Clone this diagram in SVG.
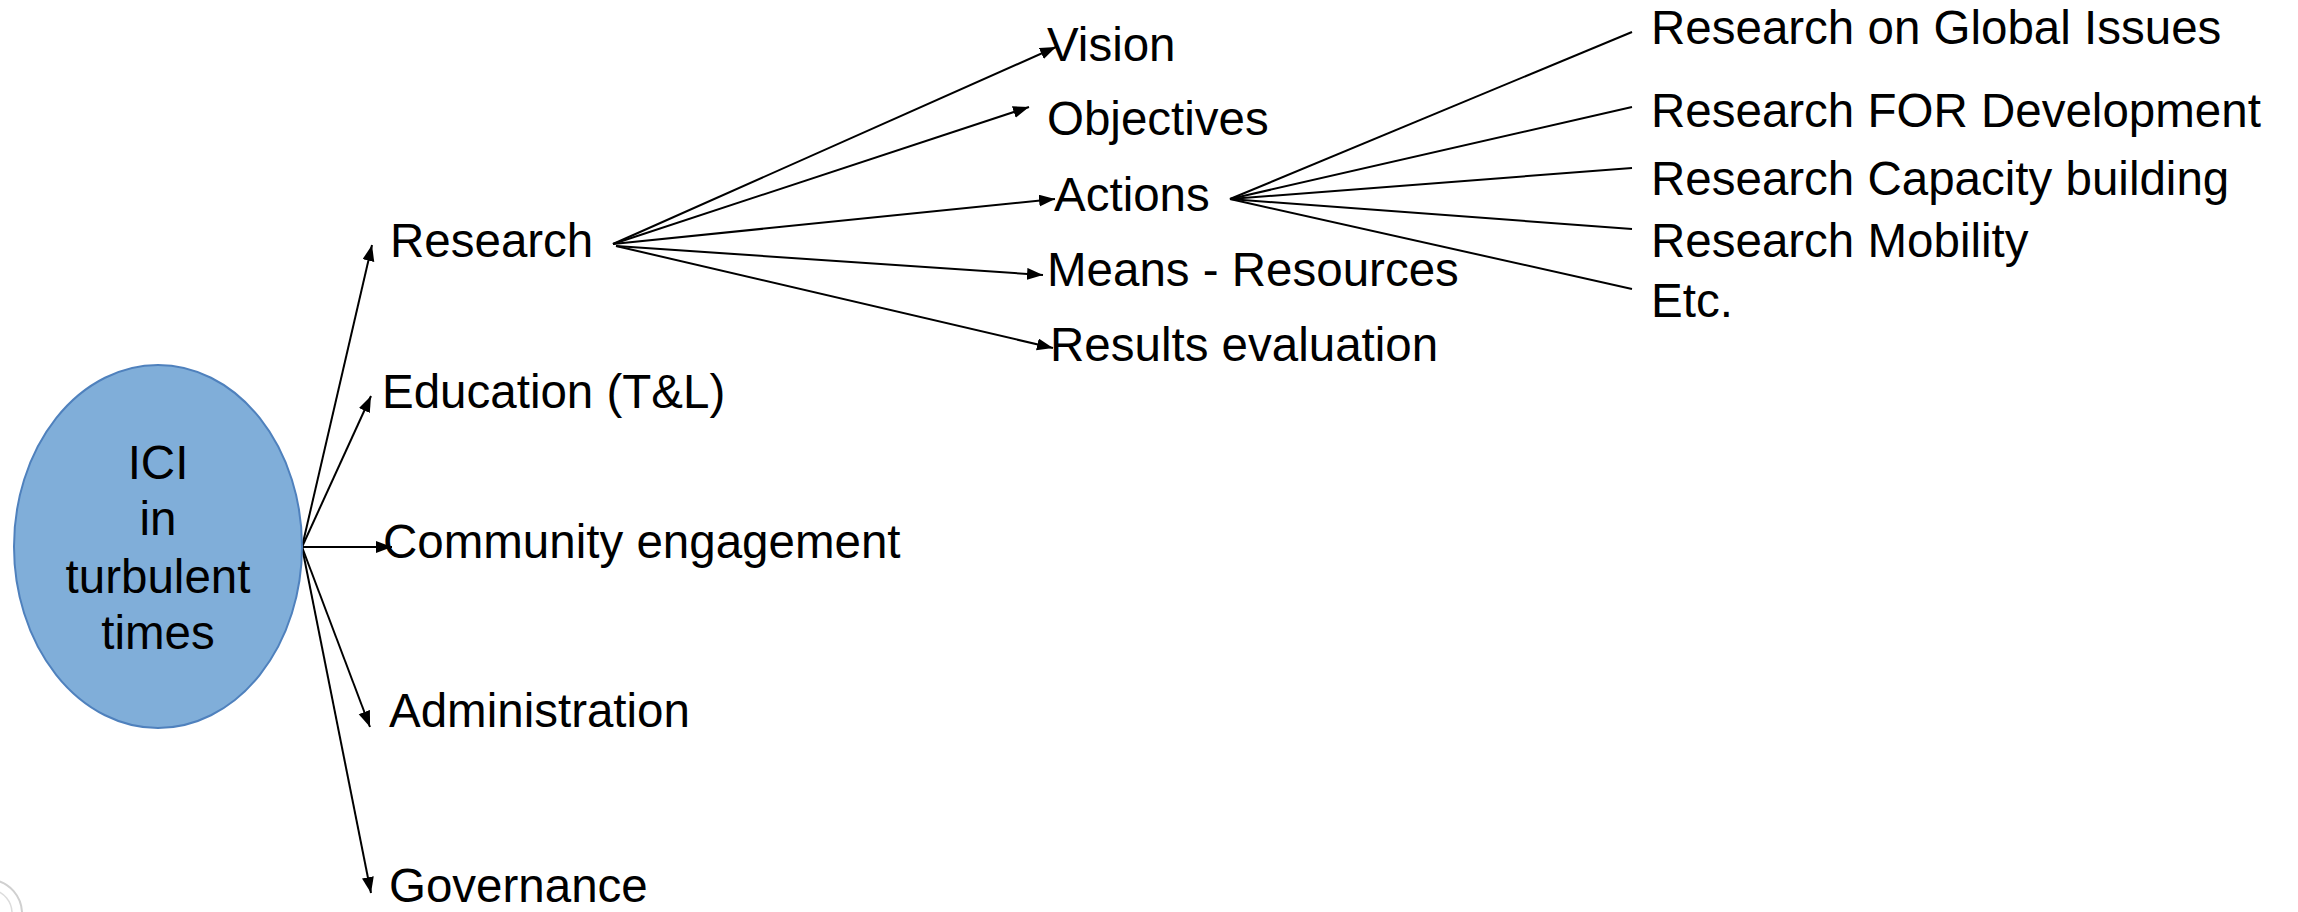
<svg xmlns="http://www.w3.org/2000/svg" width="2298" height="912" viewBox="0 0 2298 912">
<style>
text{font-family:"Liberation Sans",Arial,sans-serif;font-size:47.5px;fill:#000}
.c{stroke:#000;stroke-width:2;fill:none}
.a{marker-end:url(#ah)}
.mid{text-anchor:middle}
</style>
<defs>
<marker id="ah" markerUnits="userSpaceOnUse" markerWidth="18" markerHeight="14" refX="16" refY="6" orient="auto">
<path d="M0,0 L16,6 L0,12 z" fill="#000"/>
</marker>
</defs>
<rect width="2298" height="912" fill="#fff"/>
<path d="M-6,880 A34,34 0 0 1 22,912" fill="none" stroke="#d0d0d0" stroke-width="2"/>
<path d="M-6,890 A24,24 0 0 1 12,912" fill="none" stroke="#dcdcdc" stroke-width="1.5"/>
<g id="connectors">
<line class="c a" x1="302" y1="547" x2="372" y2="245"/>
<line class="c a" x1="302" y1="547" x2="371" y2="396"/>
<line class="c a" x1="302" y1="547" x2="392" y2="547"/>
<line class="c a" x1="302" y1="547" x2="370" y2="727"/>
<line class="c a" x1="302" y1="547" x2="371" y2="893"/>
<line class="c a" x1="613" y1="244" x2="1056" y2="47"/>
<line class="c a" x1="613" y1="244" x2="1029" y2="107"/>
<line class="c a" x1="613" y1="244" x2="1055" y2="199"/>
<line class="c a" x1="616" y1="246" x2="1043" y2="275"/>
<line class="c a" x1="616" y1="246" x2="1053" y2="348"/>
<line class="c" x1="1230" y1="199" x2="1632" y2="32"/>
<line class="c" x1="1230" y1="199" x2="1632" y2="107"/>
<line class="c" x1="1230" y1="199" x2="1632" y2="168"/>
<line class="c" x1="1230" y1="199" x2="1632" y2="229"/>
<line class="c" x1="1230" y1="199" x2="1632" y2="289"/>
</g>
<g id="ici">
<ellipse cx="158" cy="546.5" rx="144" ry="181.5" fill="#80AED9" stroke="#4F81BD" stroke-width="2"/>
<text class="mid" x="158" y="479">ICI</text>
<text class="mid" x="158" y="535">in</text>
<text class="mid" x="158" y="593">turbulent</text>
<text class="mid" x="158" y="649">times</text>
</g>
<g id="research"><text x="390" y="257">Research</text></g>
<g id="education"><text x="382" y="408">Education (T&amp;L)</text></g>
<g id="community"><text x="383" y="558">Community engagement</text></g>
<g id="administration"><text x="389" y="727">Administration</text></g>
<g id="governance"><text x="389" y="902">Governance</text></g>
<g id="vision"><text x="1047" y="61">Vision</text></g>
<g id="objectives"><text x="1047" y="135">Objectives</text></g>
<g id="actions"><text x="1054" y="211">Actions</text></g>
<g id="means"><text x="1047" y="286">Means - Resources</text></g>
<g id="results"><text x="1050" y="361">Results evaluation</text></g>
<g id="global"><text x="1651" y="44">Research on Global Issues</text></g>
<g id="fordev"><text x="1651" y="127">Research FOR Development</text></g>
<g id="capacity"><text x="1651" y="195">Research Capacity building</text></g>
<g id="mobility"><text x="1651" y="257">Research Mobility</text></g>
<g id="etc"><text x="1651" y="317">Etc.</text></g>
</svg>
